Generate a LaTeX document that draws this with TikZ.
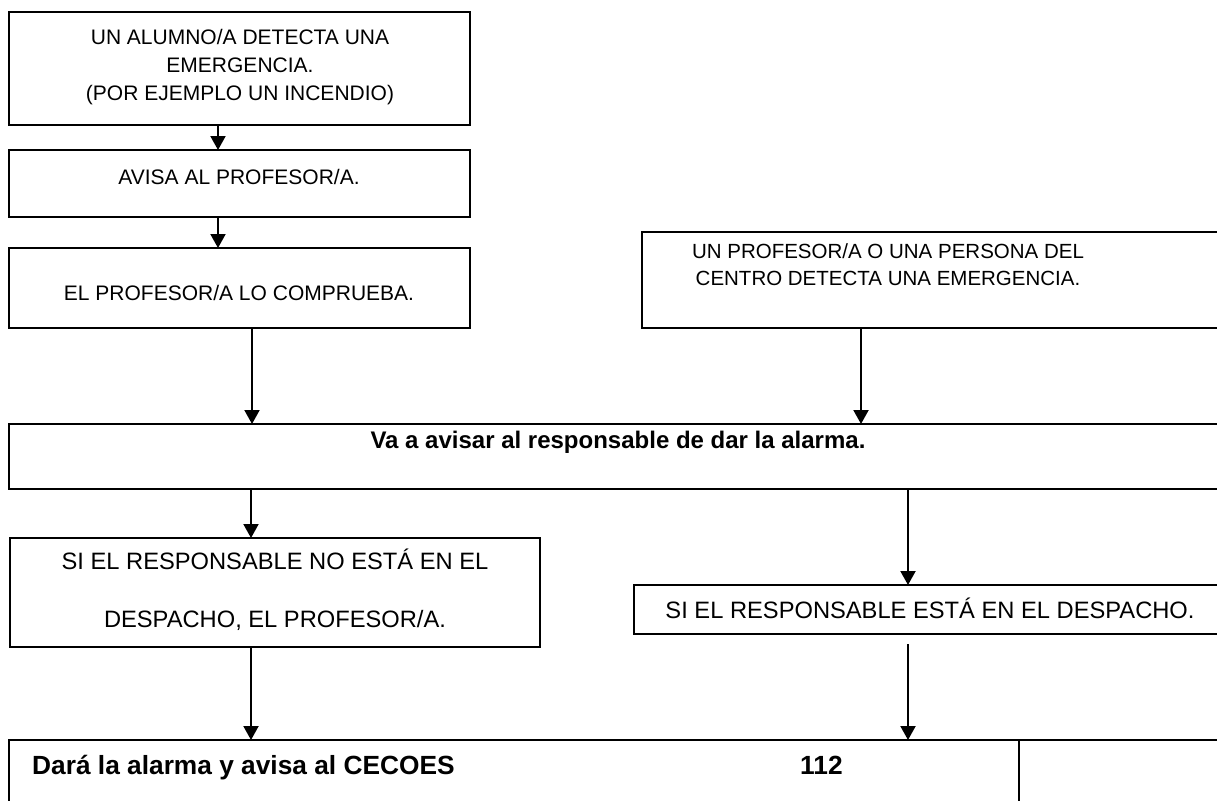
\documentclass[tikz,border=0pt]{standalone}
\usepackage{fontspec}
\setmainfont{Liberation Sans}
\usetikzlibrary{arrows.meta}
\begin{document}
\begin{tikzpicture}[x=1pt,y=-1pt,
  box/.style={draw=black, line width=2pt, inner sep=0pt, outer sep=0pt, anchor=north west},
  arr/.style={draw=black, line width=2pt, -{Triangle[width=15pt,length=14pt]}},
  plain/.style={line width=2pt},
  txt/.style={inner sep=0pt, anchor=base, font=\fontsize{21}{25}\selectfont},
  txtr/.style={inner sep=0pt, anchor=base, font=\fontsize{20.5}{25}\selectfont},
  txtl/.style={inner sep=0pt, anchor=base, font=\fontsize{23.7}{28}\selectfont},
  bold/.style={inner sep=0pt, font=\bfseries\fontsize{24}{28}\selectfont},
  boldb/.style={inner sep=0pt, anchor=base west, font=\bfseries\fontsize{26.3}{30}\selectfont}]
\useasboundingbox (0,0) rectangle (1217,800);
\clip (0,0) rectangle (1217,800);
\fill[white] (0,0) rectangle (1217,800);

% boxes
\node[box, minimum width=461pt, minimum height=113pt] (b1) at (9,12) {};
\node[box, minimum width=461pt, minimum height=67pt] (b2) at (9,150) {};
\node[box, minimum width=461pt, minimum height=80pt] (b3) at (9,248) {};
\node[box, minimum width=600pt, minimum height=96pt] (bR) at (642,232) {};
\node[box, minimum width=1230pt, minimum height=65pt] (b4) at (9,424) {};
\node[box, minimum width=530pt, minimum height=109pt] (bL) at (10,538) {};
\node[box, minimum width=600pt, minimum height=49pt] (bR2) at (634,585) {};
\node[box, minimum width=1230pt, minimum height=90pt] (b5) at (9,740) {};

% texts
\node[txt] (t1a) at (240,45) {UN ALUMNO/A DETECTA UNA};
\node[txt] (t1b) at (240,72) {EMERGENCIA.};
\node[txt] (t1c) at (240,100) {(POR EJEMPLO UN INCENDIO)};
\node[txt] (t2) at (239,184) {AVISA AL PROFESOR/A.};
\node[txt] (t3) at (239,300) {EL PROFESOR/A LO COMPRUEBA.};
\node[txtr] (tRa) at (888,258) {UN PROFESOR/A O UNA PERSONA DEL};
\node[txtr] (tRb) at (888,285) {CENTRO DETECTA UNA EMERGENCIA.};
\node[bold, anchor=base] (t4) at (618,448) {Va a avisar al responsable de dar la alarma.};
\node[txtl] (tLa) at (275,569) {SI EL RESPONSABLE NO ESTÁ EN EL};
\node[txtl] (tLb) at (275,627) {DESPACHO, EL PROFESOR/A.};
\node[txtl] (tR2) at (930,618) {SI EL RESPONSABLE ESTÁ EN EL DESPACHO.};
\node[boldb] (t5) at (32,774) {Dará la alarma y avisa al CECOES};
\node[boldb] (t6) at (800,774) {112};

% divider in bottom box
\draw[plain] ([xshift=1010pt]b5.north west) -- ([xshift=1010pt]b5.south west);

% connectors
\draw[arr] ([xshift=-21.5pt]b1.south) -- ([xshift=-21.5pt]b2.north);
\draw[arr] ([xshift=-21.5pt]b2.south) -- ([xshift=-21.5pt]b3.north);
\draw[arr] ([xshift=12.5pt]b3.south) -- ([xshift=12.5pt]b3.south |- b4.north);
\draw[arr] ([xshift=-81pt]bR.south) -- ([xshift=-81pt]bR.south |- b4.north);
\draw[arr] ([xshift=-24pt]bL.north |- b4.south) -- ([xshift=-24pt]bL.north);
\draw[arr] ([xshift=-26pt]bR2.north |- b4.south) -- ([xshift=-26pt]bR2.north);
\draw[arr] ([xshift=-24pt]bL.south) -- ([xshift=-24pt]bL.south |- b5.north);
\coordinate (r2out) at ([xshift=-26pt,yshift=-10pt]bR2.south);
\draw[arr] (r2out) -- (r2out |- b5.north);
\end{tikzpicture}
\end{document}
